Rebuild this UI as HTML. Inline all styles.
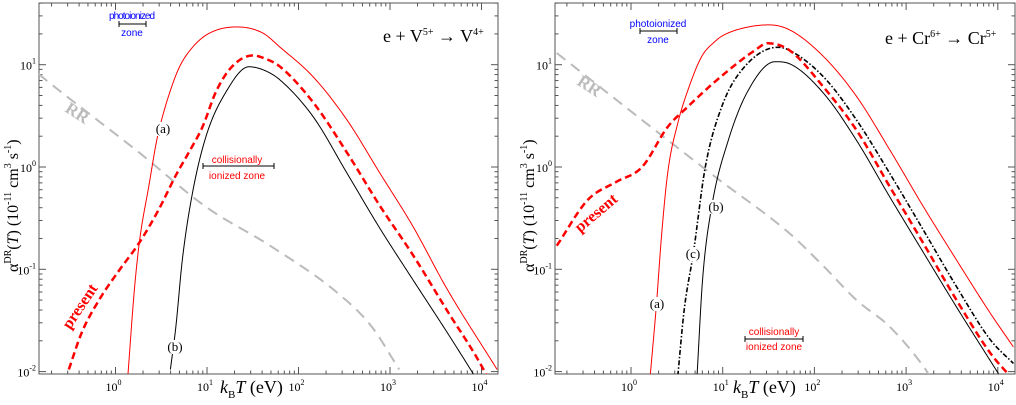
<!DOCTYPE html>
<html><head><meta charset="utf-8">
<style>
html,body{margin:0;padding:0;background:#fff;}
svg{display:block;}
text{font-family:"Liberation Serif",serif;}
.s{font-family:"Liberation Sans",sans-serif;}
</style></head>
<body>
<svg id="chart" width="1016" height="405" viewBox="0 0 1016 405" xmlns="http://www.w3.org/2000/svg"></svg>
<script>
// ---- Panel 1: e + V5+ -> V4+ ----
const p1_a_T = [1.37,1.6,1.82,2.34,2.82,3.16,3.98,5.0,7.08,10.7,21,40.7,63,145,339,776,1780,4170,14800];
const p1_a_V = [0.0095,0.06,0.182,0.69,1.82,2.8,5.6,9.5,15.1,20.4,23.4,20.4,14.8,7.59,2.88,0.87,0.263,0.065,0.0105];
const p1_pres_T = [0.309,0.427,0.66,1.1,1.82,2.95,4.57,6.3,8.9,12.6,18.6,31.6,45,63,145,339,776,1780,4170,10500,13000];
const p1_pres_V = [0.0105,0.024,0.05,0.098,0.182,0.38,0.83,1.38,2.45,5.5,9.5,12.3,11.3,9.55,4.27,1.38,0.417,0.138,0.04,0.0105,0.007];
const p1_b_T = [3.98,4.57,5.37,6.92,9.77,15.8,28.8,45,63,145,339,776,1780,4170,8130,10000];
const p1_b_V = [0.0105,0.0275,0.123,0.55,2.0,5.25,9.55,8.6,7.08,3.09,0.87,0.251,0.079,0.0245,0.0095,0.007];
const p1_rr_T = [0.145,0.174,1.82,9.77,51,275,631,1260];
const p1_rr_V = [8.1,7.08,1.38,0.407,0.166,0.0575,0.0275,0.0105];
// ---- Panel 2: e + Cr6+ -> Cr5+ ----
const p2_a_T = [1.62,1.9,2.14,2.51,3.24,4.17,5.89,8.32,9.77,15.8,31.6,53.7,126,288,661,1550,3550,8320,14800];
const p2_a_V = [0.0091,0.047,0.2,0.87,2.69,5.62,12,17,19,22.5,24.5,21.9,12,4.9,1.48,0.407,0.123,0.037,0.0174];
const p2_pres_T = [0.155,0.34,0.68,1.32,2.5,4.17,8.9,22.4,31,53.7,126,288,661,1550,3550,8320,13800];
const p2_pres_V = [0.17,0.48,0.71,1.0,2.45,3.89,7.24,13.8,16.2,13.8,6.03,2.29,0.646,0.178,0.05,0.0151,0.0089];
const p2_c_T = [3.24,3.8,4.79,6.46,9.77,16.2,39.8,53.7,126,288,661,1550,3550,8320,14800];
const p2_c_V = [0.0091,0.04,0.145,1.0,3.89,8.9,14.8,13.8,7.59,2.88,0.87,0.24,0.0676,0.0204,0.012];
const p2_b_T = [5.25,6.03,7.59,11.5,19,37.2,53.7,126,288,661,1550,3550,10200];
const p2_b_V = [0.0091,0.079,0.41,1.82,5.62,10.7,10.2,5.25,1.82,0.513,0.145,0.0427,0.0095];
const p2_rr_T = [0.155,1.82,8.3,53.7,126,288,661,1550,1800];
const p2_rr_V = [13,2.3,0.8,0.224,0.107,0.05,0.0275,0.0112,0.0091];
const xTickExp = [0,1,2,3,4];
const yTickExp = [-2,-1,0,1];

const NS="http://www.w3.org/2000/svg";
const svg=document.getElementById('chart');
function mk(tag,attrs,parent){const e=document.createElementNS(NS,tag);for(const k in attrs)e.setAttribute(k,attrs[k]);(parent||svg).appendChild(e);return e;}

function monotone(X,Y){
  const n=X.length,d=[],m=new Array(n);
  for(let i=0;i<n-1;i++)d.push((Y[i+1]-Y[i])/(X[i+1]-X[i]));
  m[0]=d[0];m[n-1]=d[n-2];
  for(let i=1;i<n-1;i++){m[i]=(d[i-1]*d[i]<=0)?0:(d[i-1]+d[i])/2;}
  for(let i=0;i<n-1;i++){if(d[i]===0){m[i]=0;m[i+1]=0;continue;}
    const a=m[i]/d[i],b=m[i+1]/d[i],s=a*a+b*b;if(s>9){const t=3/Math.sqrt(s);m[i]=t*a*d[i];m[i+1]=t*b*d[i];}}
  return function(x){let i=0;while(i<n-2&&x>X[i+1])i++;const h=X[i+1]-X[i],t=(x-X[i])/h;
    const h00=2*t*t*t-3*t*t+1,h10=t*t*t-2*t*t+t,h01=-2*t*t*t+3*t*t,h11=t*t*t-t*t;
    return h00*Y[i]+h10*h*m[i]+h01*Y[i+1]+h11*h*m[i+1];};
}

function panel(cfg){
  const g=mk('g',{});
  
  
  const L=cfg.x0,R=cfg.x1,T=3,B=374;
  const xs=v=>cfg.xDec0+(Math.log10(v))*cfg.xPer;
  const ys=v=>167-Math.log10(v)*102.3;
  const cid='clip'+cfg.id;
  const cp=mk('clipPath',{id:cid},g);mk('rect',{x:L,y:T,width:R-L,height:B-T},cp);
  const fr=mk('rect',{x:L,y:T,width:R-L,height:B-T,fill:'none',stroke:'#555','stroke-width':1},g);
  
  
  const xmin=Math.pow(10,(L-cfg.xDec0)/cfg.xPer), xmax=Math.pow(10,(R-cfg.xDec0)/cfg.xPer);
  for(let e=-1;e<=4;e++)for(let m=1;m<10;m++){const v=m*Math.pow(10,e);if(v<xmin||v>xmax)continue;const x=xs(v);const len=m==1?7:3.5;
    mk('line',{x1:x,x2:x,y1:B,y2:B-len,stroke:'#555'},g);mk('line',{x1:x,x2:x,y1:T,y2:T+len,stroke:'#555'},g);}
  for(let e=-3;e<=1;e++)for(let m=1;m<10;m++){const v=m*Math.pow(10,e);const y=ys(v);if(y<T||y>B)continue;const len=m==1?7:3.5;
    mk('line',{x1:L,x2:L+len,y1:y,y2:y,stroke:'#555'},g);mk('line',{x1:R,x2:R-len,y1:y,y2:y,stroke:'#555'},g);}
  xTickExp.forEach(e=>{const t=mk('text',{x:xs(Math.pow(10,e))-2,y:391,'text-anchor':'middle','font-size':12},g);
    
    t.innerHTML='10<tspan dy="-6" font-size="8">'+e+'</tspan>';});
  yTickExp.forEach(e=>{const t=mk('text',{x:L-3,y:ys(Math.pow(10,e))+5,'text-anchor':'end','font-size':12},g);
    
    t.innerHTML='10<tspan dy="-6" font-size="8">'+e+'</tspan>';});
  const xt=mk('text',{x:cfg.xTitleX,y:393,'font-size':18},g);
  
  xt.innerHTML='<tspan font-style="italic">k</tspan><tspan dy="5" font-size="11">B</tspan><tspan dy="-5" font-style="italic">T</tspan>  (eV)';
  const yt=mk('text',{transform:`translate(${L-21},${cfg.yTitleY}) rotate(-90)`,'font-size':16},g);
  
  yt.innerHTML='α<tspan dy="-7" font-size="10">DR</tspan><tspan dy="7">(</tspan><tspan font-style="italic">T</tspan>)    (10<tspan dy="-7" font-size="10">-11</tspan><tspan dy="7"> cm</tspan><tspan dy="-7" font-size="10">3</tspan><tspan dy="7"> s</tspan><tspan dy="-7" font-size="10">-1</tspan><tspan dy="7">)</tspan>';
  const cg=mk('g',{'clip-path':`url(#${cid})`},g);
  function curve(Ts,Vs,style,name){
    const lx=Ts.map(Math.log10),ly=Vs.map(Math.log10);
    const f=monotone(lx,ly);
    const a=lx[0],b=lx[lx.length-1],N=300;let d='';
    for(let k=0;k<=N;k++){const u=a+(b-a)*k/N;const px=xs(Math.pow(10,u)),py=ys(Math.pow(10,f(u)));
      d+=(k?'L':'M')+px.toFixed(2)+','+py.toFixed(2);}
    const p=mk('path',Object.assign({d:d,fill:'none'},style),cg);
    
  }
  cfg.curves.forEach(c=>curve(c[0],c[1],c[2],c[3]));
  cfg.notes.forEach(n=>{
    if(n.bg){const r=mk('rect',{x:n.a.x-9,y:n.a.y-11,width:18,height:14,fill:'#fff'},g);
      }
    const t=mk('text',Object.assign({},n.a),g);t.innerHTML=n.t;
    });
  cfg.lines.forEach(l=>{mk('line',{x1:l[0],x2:l[1],y1:l[2],y2:l[2],stroke:l[3]},g);
    mk('line',{x1:l[0],x2:l[0],y1:l[2]-3,y2:l[2]+3,stroke:l[3]},g);mk('line',{x1:l[1],x2:l[1],y1:l[2]-3,y2:l[2]+3,stroke:l[3]},g);});
}
const sRedSolid={stroke:'#f00','stroke-width':1};
const sRedDash={stroke:'#f00','stroke-width':2.5,'stroke-dasharray':'7,4'};
const sBlack={stroke:'#000','stroke-width':1};
const sRR={stroke:'#bbb','stroke-width':2,'stroke-dasharray':'11,7'};
const sDashDot={stroke:'#000','stroke-width':1.6,'stroke-dasharray':'5,2,1.5,2'};

panel({id:1,name:'panel-vanadium',x0:39,x1:498,xDec0:115.5,xPer:91.5,xTitleX:220,yTitleY:272,
  curves:[[p1_rr_T,p1_rr_V,sRR,'rr-curve'],[p1_a_T,p1_a_V,sRedSolid,'curve-a'],[p1_b_T,p1_b_V,sBlack,'curve-b'],[p1_pres_T,p1_pres_V,sRedDash,'present-curve']],
  lines:[[119,146,24,'#000'],[203,274,166,'#000']],
  notes:[
   {t:'photoionized',n:'photoionized-label',a:{x:132,y:19,'text-anchor':'middle','font-size':10,fill:'#00f',class:'s','textLength':46}},
   {t:'zone',n:'photoionized-zone-label',a:{x:132,y:36,'text-anchor':'middle','font-size':10,fill:'#00f',class:'s'}},
   {t:'collisionally',n:'collisional-label',a:{x:237,y:163,'text-anchor':'middle','font-size':10,fill:'#f00',class:'s'}},
   {t:'ionized zone',n:'collisional-zone-label',a:{x:237,y:179,'text-anchor':'middle','font-size':10,fill:'#f00',class:'s'}},
   {t:'e + V<tspan dy="-7" font-size="10">5+</tspan><tspan dy="7"> → V</tspan><tspan dy="-7" font-size="10">4+</tspan>',n:'reaction-title',a:{x:383,y:42,'font-size':18}},
   {t:'RR',n:'rr-label',a:{transform:'translate(64,111) rotate(33)','font-size':17,'font-weight':'bold',fill:'#bbb'}},
   {t:'present',n:'present-label',a:{transform:'translate(70,330) rotate(-56)','font-size':16,'font-weight':'bold',fill:'#f00'}},
   {t:'(a)',n:'label-a',bg:1,a:{x:163,y:133,'text-anchor':'middle','font-size':13}},
   {t:'(b)',n:'label-b',bg:1,a:{x:175,y:351,'text-anchor':'middle','font-size':13}}]});

panel({id:2,name:'panel-chromium',x0:555,x1:1015,xDec0:631,xPer:91.7,xTitleX:733,yTitleY:272,
  curves:[[p2_rr_T,p2_rr_V,sRR,'rr-curve'],[p2_a_T,p2_a_V,sRedSolid,'curve-a'],[p2_b_T,p2_b_V,sBlack,'curve-b'],[p2_c_T,p2_c_V,sDashDot,'curve-c'],[p2_pres_T,p2_pres_V,sRedDash,'present-curve']],
  lines:[[640,677,31,'#000'],[745,803,339,'#000']],
  notes:[
   {t:'photoionized',n:'photoionized-label',a:{x:658,y:27,'text-anchor':'middle','font-size':10,fill:'#00f',class:'s'}},
   {t:'zone',n:'photoionized-zone-label',a:{x:658,y:43,'text-anchor':'middle','font-size':10,fill:'#00f',class:'s'}},
   {t:'collisionally',n:'collisional-label',a:{x:774,y:335,'text-anchor':'middle','font-size':10,fill:'#f00',class:'s'}},
   {t:'ionized zone',n:'collisional-zone-label',a:{x:774,y:350,'text-anchor':'middle','font-size':10,fill:'#f00',class:'s'}},
   {t:'e + Cr<tspan dy="-7" font-size="10">6+</tspan><tspan dy="7"> → Cr</tspan><tspan dy="-7" font-size="10">5+</tspan>',n:'reaction-title',a:{x:885,y:44,'font-size':18}},
   {t:'RR',n:'rr-label',a:{transform:'translate(576,84) rotate(33)','font-size':17,'font-weight':'bold',fill:'#bbb'}},
   {t:'present',n:'present-label',a:{transform:'translate(580,233) rotate(-40)','font-size':16,'font-weight':'bold',fill:'#f00'}},
   {t:'(a)',n:'label-a',bg:1,a:{x:657,y:308,'text-anchor':'middle','font-size':13}},
   {t:'(b)',n:'label-b',bg:1,a:{x:716,y:211,'text-anchor':'middle','font-size':13}},
   {t:'(c)',n:'label-c',bg:1,a:{x:693,y:258,'text-anchor':'middle','font-size':13}}]});
</script>
</body></html>
